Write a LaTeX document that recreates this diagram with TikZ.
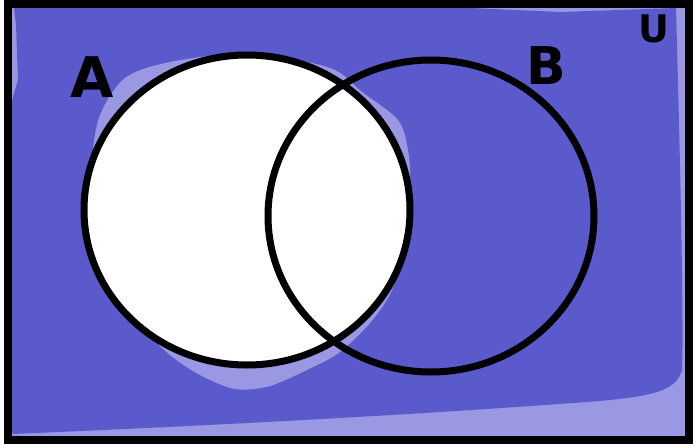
\documentclass[tikz,border=0pt]{standalone}
\usepackage{fontspec}
\setmainfont{DejaVu Sans}
\definecolor{vennblue}{HTML}{5A5ACC}
\definecolor{vennpale}{HTML}{9A98E3}
\begin{document}
\begin{tikzpicture}[x=1pt, y=-1pt,
  set/.style={draw=black, line width=7pt},
  lbl/.style={font=\bfseries\fontsize{56}{56}\selectfont, inner sep=0pt}
]
\useasboundingbox (0,0) rectangle (696,447);
% universe, pale rim round the darker wash
\fill[vennpale] (8,4) rectangle (689,440);
\fill[vennblue] (14,8) -- (470,8) -- (560,12) -- (676,8)
  .. controls (680,150) and (684,330) .. (682,370)
  .. controls (676,392) and (650,396) .. (600,401)
  .. controls (400,416) and (200,426) .. (12,434)
  -- (12,100) -- (18,80) -- (16,25) -- cycle;
% pale patch round A
\fill[vennpale] plot[smooth cycle] coordinates {(100,115) (125,78) (170,62)
  (250,53) (330,68) (362,92) (398,120) (408,150) (410,185) (405,240)
  (392,290) (370,323) (340,352) (313,367) (270,386) (235,389) (200,375)
  (170,355) (140,325) (110,280) (92,220) (92,160)};
\fill[white] (247,210) ellipse [x radius=163, y radius=155];
% the two sets
\coordinate (cA) at (247,210);
\coordinate (cB) at (431,216);
\draw[set] (cA) ellipse [x radius=163, y radius=155];
\draw[set] (cB) ellipse [x radius=163, y radius=156];
\draw[line width=8pt] (8,4) rectangle (689,440);
\node[lbl] (labA) at (92,77) {A};
\node[lbl, font=\bfseries\fontsize{52}{52}\selectfont] (labB) at (546,66) {B};
\node[lbl, font=\bfseries\fontsize{38}{38}\selectfont] (labU) at (654,29) {U};
\end{tikzpicture}
\end{document}
